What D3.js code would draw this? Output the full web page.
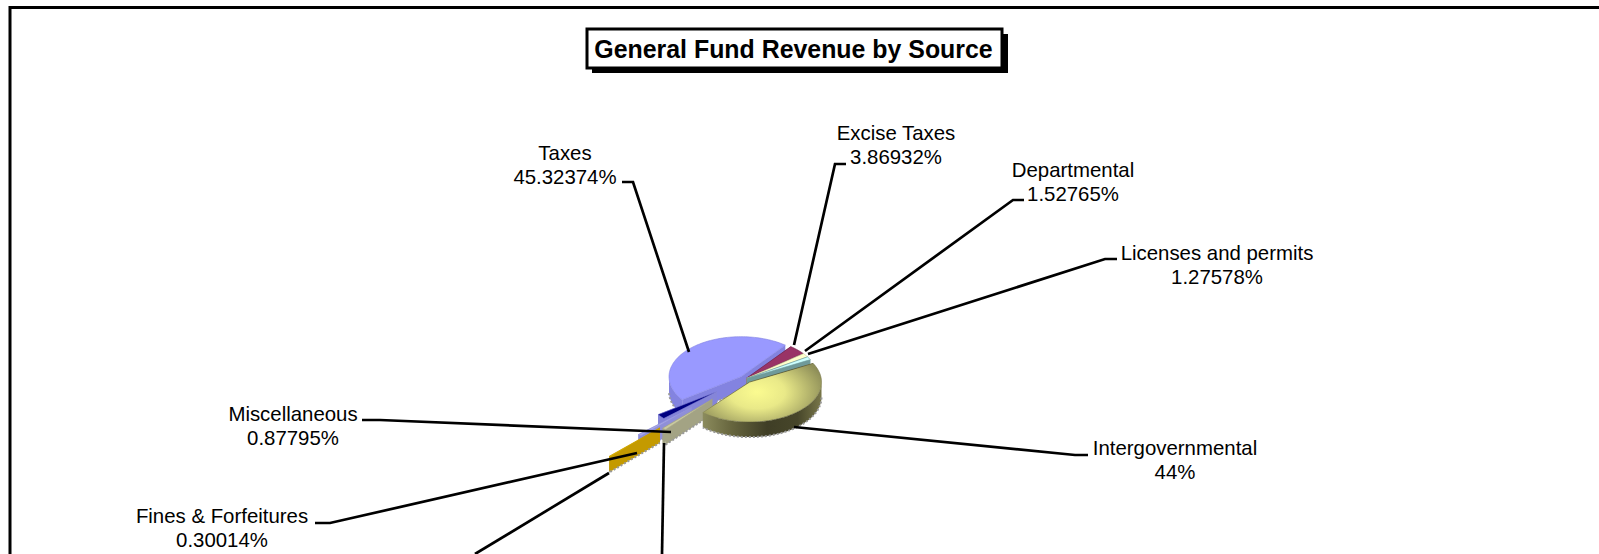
<!DOCTYPE html>
<html>
<head>
<meta charset="utf-8">
<script src="https://cdn.jsdelivr.net/npm/d3@7/dist/d3.min.js"></script>
<style>
html,body{margin:0;padding:0;background:#fff;overflow:hidden}
svg{display:block}
text{font-family:"Liberation Sans",Arial,sans-serif;fill:#000}
</style>
</head>
<body>
<svg id="chart" width="1599" height="554"></svg>
<script>
// General fund revenue shares, in percent, in clockwise pie order.
const categories = ["Intergovernmental","Miscellaneous","Fines & Forfeitures","Other revenue","Charges for services","Taxes","Excise Taxes","Departmental","Licenses and permits"];
const shares = [44,0.87795,0.30014,0.825,2,45.32374,3.86932,1.52765,1.27578];
const shareLabels = ["44%","0.87795%","0.30014%",null,null,"45.32374%","3.86932%","1.52765%","1.27578%"];
const titleText = "General Fund Revenue by Source";

// Presentation of each slice, keyed by category.
const look = {
  "Intergovernmental":{top:"url(#yellowTop)",wall:"url(#yellowWall)",explode:0.1,order:8},
  "Miscellaneous":{top:"#c9c9a0",wall:"#a3a384",explode:0.68,order:7},
  "Fines & Forfeitures":{top:"#f2cc00",wall:"#c49a00",explode:1.7,order:6},
  "Other revenue":{top:"#a8a8e8",wall:"#8f8fd8",explode:1.03,order:5},
  "Charges for services":{top:"#000080",wall:"#8585d8",explode:0.5,order:4},
  "Taxes":{top:"#9999ff",wall:"#8383e0",explode:0.08,order:0},
  "Excise Taxes":{top:"#993366",wall:"#70264c",explode:0.03,order:1},
  "Departmental":{top:"#ffffcc",wall:"#c8c89a",explode:0.03,order:2},
  "Licenses and permits":{top:"#ccffff",wall:"#6f9a9a",explode:0.03,order:3}
};

// Label placement: text centre, leader elbow and the point the leader runs to.
const labelLayout = {
  "Taxes":{x:565,y:160,elbow:[622,182,633,182],reach:[689,352]},
  "Excise Taxes":{x:896,y:140,elbow:[846,164,835,164],reach:[794,345]},
  "Departmental":{x:1073,y:177,elbow:[1024,200,1013,200],reach:[805,351]},
  "Licenses and permits":{x:1217,y:260,elbow:[1117,259,1105,259],reach:[808,354]},
  "Intergovernmental":{x:1175,y:455,elbow:[1088,455,1075,455],reach:[794,427]},
  "Miscellaneous":{x:293,y:421,elbow:[362,420,380,420],reach:[671,432]},
  "Fines & Forfeitures":{x:222,y:523,elbow:[315,523,330,523],reach:[637,453]}
};
const cutLeaders = [[[609,473],[475,554]],[[664,443],[662,554]]];

const svg = d3.select("#chart");
const defs = svg.append("defs");

const yt = defs.append("radialGradient").attr("id","yellowTop").attr("gradientUnits","userSpaceOnUse")
  .attr("cx",757).attr("cy",392).attr("r",70).attr("gradientTransform","translate(757 392) scale(1 .6) translate(-757 -392)");
yt.append("stop").attr("offset",0).attr("stop-color","#fbfb90");
yt.append("stop").attr("offset",.4).attr("stop-color","#e9e988");
yt.append("stop").attr("offset",1).attr("stop-color","#8e8e58");
const yw = defs.append("linearGradient").attr("id","yellowWall").attr("gradientUnits","userSpaceOnUse")
  .attr("x1",700).attr("x2",822).attr("y1",0).attr("y2",0);
[[0,"#8f8f60"],[.25,"#68673f"],[.55,"#3f3e26"],[.8,"#47462a"],[1,"#7a784a"]].forEach(([o,c])=>
  yw.append("stop").attr("offset",o).attr("stop-color",c));

// Outer frame, open on the right and at the bottom.
svg.append("rect").attr("x",10).attr("y",7.5).attr("width",1700).attr("height",800)
  .attr("fill","#fff").attr("stroke","#000").attr("stroke-width",3);

// Title box with its hard drop shadow.
svg.append("rect").attr("x",592).attr("y",34).attr("width",416).attr("height",39).attr("fill","#000");
svg.append("rect").attr("x",587).attr("y",29).attr("width",415).attr("height",39).attr("fill","#fff").attr("stroke","#000").attr("stroke-width",3);
svg.append("text").attr("x",793.5).attr("y",58).attr("text-anchor","middle")
  .attr("font-size",24.9).attr("font-weight","bold").text(titleText);

// Oblique pie: a circle squashed vertically, with a constant wall depth.
const cx = 745, cy = 379, rx = 72, ry = 40, depth = 15;
const xUnit = d3.scaleLinear().domain([-1,1]).range([-rx,rx]);
const yUnit = d3.scaleLinear().domain([-1,1]).range([-ry,ry]);

// Angles run clockwise on screen from the +x direction, starting on the far right of the pie.
const startDeg = -28;
const toRad = d => d*Math.PI/180;
const pie = d3.pie().sort(null).value(d=>d.share)
  .startAngle(toRad(startDeg)).endAngle(toRad(startDeg+360));
const arcs = pie(categories.map((name,i)=>({name,share:shares[i],label:shareLabels[i]})));

function slicePaths(a){
  const l = look[a.data.name];
  const mid = (a.startAngle+a.endAngle)/2;
  const ox = cx + xUnit(l.explode*Math.cos(mid));
  const oy = cy + yUnit(l.explode*Math.sin(mid));
  const pt = (t,dz=0)=>[ox+xUnit(Math.cos(t)),oy+yUnit(Math.sin(t))+dz];
  const steps = d3.range(0,1.0001,1/Math.max(2,Math.ceil((a.endAngle-a.startAngle)*40)))
    .map(f=>a.startAngle+f*(a.endAngle-a.startAngle));
  const line = d3.line();
  const top = line([[ox,oy],...steps.map(t=>pt(t))])+"Z";
  // Radial walls, then the part of the rim facing the viewer.
  const radial = [[ox,oy],pt(a.startAngle),pt(a.startAngle,depth),[ox,oy+depth]];
  const radial2 = [[ox,oy],pt(a.endAngle),pt(a.endAngle,depth),[ox,oy+depth]];
  const front = steps.filter(t=>Math.sin(t)>=0);
  const rim = front.length>1 ? [...front.map(t=>pt(t)),...front.slice().reverse().map(t=>pt(t,depth))] : null;
  const rimEdge = front.length>1 ? line(front.map(t=>pt(t,depth))) : null;
  const radialEdge = line([pt(a.startAngle,depth),[ox,oy+depth]]);
  return {top,walls:[radial,radial2],rim,rimEdge,radialEdge,line,l};
}

// Back-to-front painting, each slice in its own group.
const pieG = svg.append("g");
arcs.slice().sort((p,q)=>look[p.data.name].order-look[q.data.name].order).forEach(a=>{
  const s = slicePaths(a), g = pieG.append("g");
  s.walls.forEach(w=>g.append("path").attr("d",s.line(w)+"Z").attr("fill",s.l.wall));
  if(s.rim) g.append("path").attr("d",s.line(s.rim)+"Z").attr("fill",s.l.wall);
  [s.rimEdge,s.radialEdge].filter(Boolean).forEach(d=>
    g.append("path").attr("d",d).attr("fill","none").attr("stroke","#9a9a9a").attr("stroke-width",2).attr("stroke-dasharray","2 2"));
  g.append("path").attr("d",s.top).attr("fill",s.l.top).attr("stroke",s.l.wall).attr("stroke-width",.6);
});

// Leaders and category labels.
const leaderLine = d3.line();
const leaders = svg.append("g").attr("fill","none").attr("stroke","#000").attr("stroke-width",2.7);
arcs.forEach(a=>{
  const p = labelLayout[a.data.name];
  if(!p) return;
  const e = p.elbow;
  leaders.append("path").attr("d",leaderLine([[e[0],e[1]],[e[2],e[3]],p.reach]));
  const t = svg.append("text").attr("text-anchor","middle").attr("font-size",20.4);
  t.append("tspan").attr("x",p.x).attr("y",p.y).text(a.data.name);
  t.append("tspan").attr("x",p.x).attr("y",p.y+23.5).text(a.data.label);
});
cutLeaders.forEach(c=>leaders.append("path").attr("d",leaderLine(c)));
</script>
</body>
</html>
